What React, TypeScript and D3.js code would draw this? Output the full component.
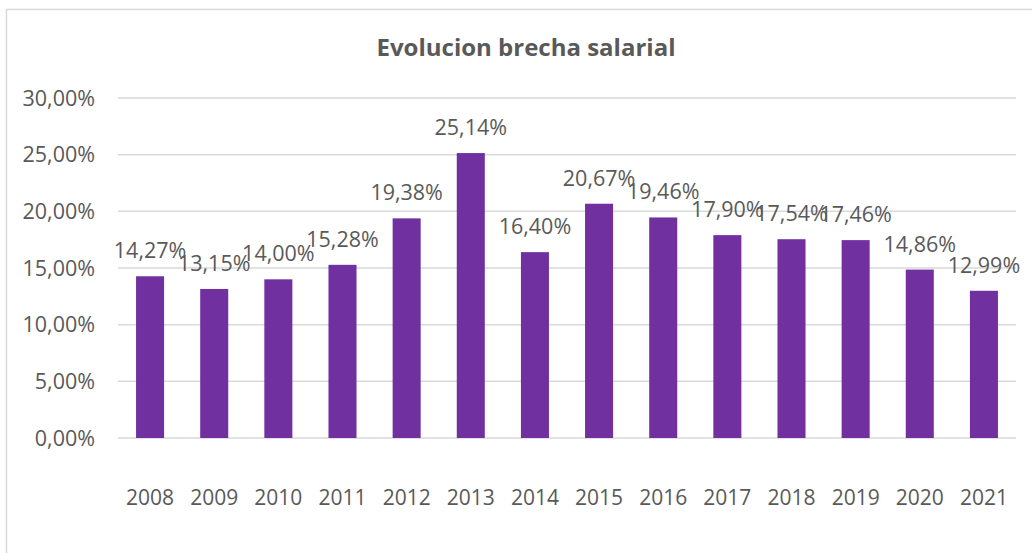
import React from "react";
import * as d3 from "d3";

const years = ["2008","2009","2010","2011","2012","2013","2014","2015","2016","2017","2018","2019","2020","2021"];
const values = [14.27,13.15,14.0,15.28,19.38,25.14,16.4,20.67,19.46,17.9,17.54,17.46,14.86,12.99];
const yTicks = [0,5,10,15,20,25,30];
const title = "Evolucion brecha salarial";

const W = 1032, H = 553;
const fmt = (v: number) => v.toFixed(2).replace(".", ",") + "%";

export default function App() {
  const x = d3.scaleBand<string>().domain(years).range([118, 1016]).paddingInner(0.563).paddingOuter(0.2815);
  const y = d3.scaleLinear().domain([0, 30]).range([438, 98]);
  const font = "'Open Sans', sans-serif";
  const col = "#595959";
  return (
    <svg width={W} height={H} style={{ position: "absolute", left: 0, top: 0, background: "#fff" }} fontFamily={font}>
      <rect x={6.5} y={9.5} width={1100} height={600} fill="#fff" stroke="#d9d9d9" strokeWidth={1.5} />
      <text x={526} y={56} textAnchor="middle" fontSize={24} fontWeight={700} fill={col}>{title}</text>
      {yTicks.map(t => (
        <g key={t}>
          <line x1={118} x2={1016} y1={y(t)} y2={y(t)} stroke="#d9d9d9" strokeWidth={1.5} />
          <text x={95} y={y(t)} dy="0.36em" textAnchor="end" fontSize={21.5} fill={col}>{fmt(t)}</text>
        </g>
      ))}
      {years.map((yr, i) => (
        <g key={yr}>
          <rect x={x(yr)} y={y(values[i])} width={x.bandwidth()} height={y(0) - y(values[i])} fill="#7030A0" />
          <text x={(x(yr) as number) + x.bandwidth() / 2} y={y(values[i]) - 18} textAnchor="middle" fontSize={21.5} fill={col}>{fmt(values[i])}</text>
          <text x={(x(yr) as number) + x.bandwidth() / 2} y={505} textAnchor="middle" fontSize={21} fill={col}>{yr}</text>
        </g>
      ))}
    </svg>
  );
}
